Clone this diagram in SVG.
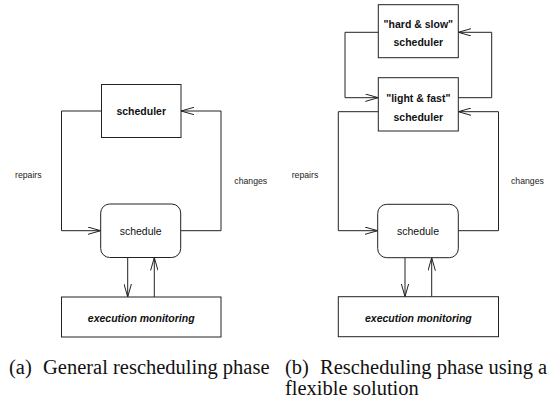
<svg xmlns="http://www.w3.org/2000/svg" width="560" height="402" viewBox="0 0 560 402">
<style>
.box{fill:#fff;stroke:#222;stroke-width:1}
.ln{fill:none;stroke:#222;stroke-width:1}
.t{font-family:"Liberation Sans",Arial,sans-serif;font-size:10.5px;fill:#111;text-anchor:middle}
.b{font-weight:bold}
.bi{font-weight:bold;font-style:italic}
.lbl{font-family:"Liberation Sans",Arial,sans-serif;font-size:8.7px;fill:#222}
.cap{font-family:"Liberation Serif","Times New Roman",serif;font-size:20.5px;fill:#111}
</style>
<defs>
<marker id="ah" viewBox="0 0 13 8" refX="13" refY="4" markerWidth="13" markerHeight="8" markerUnits="userSpaceOnUse" orient="auto">
<path d="M0,0.3 L13,4 L0,7.7" fill="none" stroke="#222" stroke-width="1"/>
</marker>
</defs>
<g id="connectors">
<path class="ln" d="M101,111 H61.5 V230.7 H100.7" marker-end="url(#ah)"/>
<path class="ln" d="M180.7,230.7 H221 V111 H181" marker-end="url(#ah)"/>
<path class="ln" d="M127.7,257.5 V297" marker-end="url(#ah)"/>
<path class="ln" d="M154.3,297 V257.5" marker-end="url(#ah)"/>
<path class="ln" d="M378.3,32.3 H345 V97.7 H378.3" marker-end="url(#ah)"/>
<path class="ln" d="M458.3,97.7 H491.7 V32.3 H458.3" marker-end="url(#ah)"/>
<path class="ln" d="M378.3,111.7 H338.3 V230.7 H377.7" marker-end="url(#ah)"/>
<path class="ln" d="M458.3,230.7 H498.5 V111.7 H458.3" marker-end="url(#ah)"/>
<path class="ln" d="M405,257.7 V296.7" marker-end="url(#ah)"/>
<path class="ln" d="M431.7,296.7 V257.7" marker-end="url(#ah)"/>
</g>
<g id="a-scheduler">
<rect class="box" x="101.5" y="84.5" width="79.5" height="53"/>
<text class="t b" x="141.2" y="115">scheduler</text>
</g>
<g id="a-schedule">
<rect class="box" x="100.7" y="204" width="80" height="53.5" rx="9" ry="9"/>
<text class="t" x="140.7" y="234.5">schedule</text>
</g>
<g id="a-monitoring">
<rect class="box" x="61.5" y="297" width="159.5" height="40"/>
<text class="t bi" x="141.2" y="321.5">execution monitoring</text>
</g>
<g id="a-labels">
<text class="lbl" x="15" y="178">repairs</text>
<text class="lbl" x="234.3" y="183.5">changes</text>
</g>
<g id="b-hard">
<rect class="box" x="378.3" y="4.7" width="80" height="53"/>
<text class="t b" x="418.3" y="28">"hard &amp; slow"</text>
<text class="t b" x="418.3" y="46">scheduler</text>
</g>
<g id="b-light">
<rect class="box" x="378.3" y="77.7" width="80" height="53.3"/>
<text class="t b" x="418.3" y="101.5">"light &amp; fast"</text>
<text class="t b" x="418.3" y="121">scheduler</text>
</g>
<g id="b-schedule">
<rect class="box" x="377.7" y="204.3" width="80.6" height="53.4" rx="9" ry="9"/>
<text class="t" x="418" y="234.5">schedule</text>
</g>
<g id="b-monitoring">
<rect class="box" x="338.3" y="296.7" width="160.2" height="40"/>
<text class="t bi" x="418.4" y="321.5">execution monitoring</text>
</g>
<g id="b-labels">
<text class="lbl" x="291.7" y="178">repairs</text>
<text class="lbl" x="511" y="183.5">changes</text>
</g>
<g id="captions">
<text class="cap" x="9" y="374">(a)</text>
<text class="cap" x="43" y="374">General rescheduling phase</text>
<text class="cap" x="285" y="374">(b)</text>
<text class="cap" x="320" y="374">Rescheduling phase using a</text>
<text class="cap" x="285" y="395">flexible solution</text>
</g>
</svg>
